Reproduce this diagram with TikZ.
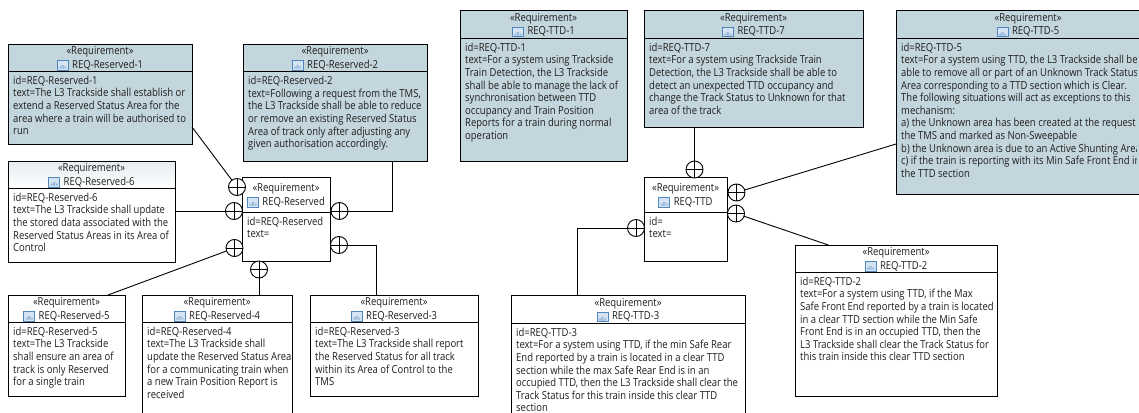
\documentclass[tikz,border=0pt]{standalone}
\usepackage{fontspec}
\setmainfont[FakeStretch=0.862]{Open Sans}
\usetikzlibrary{calc}
\definecolor{reqfill}{HTML}{C4D6DD}
\definecolor{reqink}{HTML}{1E1E1E}
\definecolor{iconfill}{HTML}{D5E4F3}
\definecolor{iconedge}{HTML}{4F86BE}
\definecolor{headtop}{HTML}{E4ECF0}
\newcommand{\reqicon}{\raisebox{-1.5pt}{\fboxsep=0pt\fboxrule=.9pt\fcolorbox{iconedge}{iconfill}{\makebox[10pt]{\rule{0pt}{8.5pt}\fontsize{5.5}{5.5}\selectfont\color{iconedge}«R»}}}\hspace{3.5pt}}
\def\reqtop{white}
% #1 name #2 x1 #3 y1 #4 x2 #5 ydiv #6 y2 #7 title #8 fill #9 body ; \reqclip = clip x
\newcommand{\reqbox}[9]{%
  \node[reqframe,fill=#8,minimum width={#4pt-#2pt},minimum height={#6pt-#3pt},anchor=north west] (#1) at (#2,#3) {};
  \ifx\reqtop\relax\else\fill[top color=\reqtop,bottom color=#8] (#2,#3) rectangle (#4,#5);
  \draw[reqrule] (#1.north west) rectangle (#1.south east);\fi
  \draw[reqrule] (#2,#5) -- (#4,#5);
  \node[reqtitle] (#1t) at ({(#2+#4)/2},{(#3+#5)/2+1}) {«Requirement»\\\reqicon #7};
  \begin{scope}
    \clip (#2,#5) rectangle (\reqclip,#6);
    \node[reqbody] (#1b) at (#2+5,#5+4.7) {#9};
  \end{scope}
}
\tikzset{
  reqframe/.style={draw=black,line width=.9pt,inner sep=0pt,outer sep=0pt},
  reqrule/.style={draw=black,line width=.9pt},
  reqtitle/.style={align=center,inner sep=0pt,font=\fontsize{11}{13.6}\selectfont,text=reqink},
  reqbody/.style={anchor=north west,align=left,inner sep=0pt,font=\fontsize{11}{12.6}\selectfont,text=reqink},
  joint/.style={circle,draw=black,line width=.9pt,minimum size=17pt,inner sep=0pt,outer sep=0pt,fill=white,
    path picture={\draw[black,line width=.9pt] (path picture bounding box.north)--(path picture bounding box.south) (path picture bounding box.west)--(path picture bounding box.east);}},
  link/.style={draw=black,line width=.9pt},
}
\begin{document}
\begin{tikzpicture}[x=1pt,y=-1pt]
\clip (0,0) rectangle (1139,412);
\fill[white] (0,0) rectangle (1139,412);
% Reserved group
\let\reqtop\relax
\def\reqclip{185}
\reqbox{rA}{8}{44}{192}{71}{144}{REQ-Reserved-1}{reqfill}{id=REQ-Reserved-1\\text=The L3 Trackside shall establish or\\extend a Reserved Status Area for the\\area where a train will be authorised to\\run}
\def\reqclip{424}
\reqbox{rB}{243}{44}{427}{71.5}{161}{REQ-Reserved-2}{reqfill}{id=REQ-Reserved-2\\text=Following a request from the TMS,\\the L3 Trackside shall be able to reduce\\or remove an existing Reserved Status\\Area of track only after adjusting any\\given authorisation accordingly.}
\def\reqclip{168}
\def\reqtop{headtop}
\reqbox{rF}{8}{161}{175}{188}{262}{REQ-Reserved-6}{white}{id=REQ-Reserved-6\\text=The L3 Trackside shall update\\the stored data associated with the\\Reserved Status Areas in its Area of\\Control}
\let\reqtop\relax
\def\reqclip{329}
\reqbox{rC}{242}{177}{330}{212}{261}{REQ-Reserved}{white}{id=REQ-Reserved\\text=}
\def\reqclip{124}
\reqbox{rE}{8}{295}{125}{322}{396}{REQ-Reserved-5}{white}{id=REQ-Reserved-5\\text=The L3 Trackside\\shall ensure an area of\\track is only Reserved\\for a single train}
\def\reqclip{291}
\reqbox{rD}{142}{295}{292}{322}{430}{REQ-Reserved-4}{white}{id=REQ-Reserved-4\\text=The L3 Trackside shall\\update the Reserved Status Area\\for a communicating train when\\a new Train Position Report is\\received}
\def\reqclip{477}
\reqbox{rG}{310}{295}{478}{322}{396}{REQ-Reserved-3}{white}{id=REQ-Reserved-3\\text=The L3 Trackside shall report\\the Reserved Status for all track\\within its Area of Control to the\\TMS}
% TTD group
\def\reqclip{626}
\reqbox{tA}{460}{10}{627}{38}{161}{REQ-TTD-1}{reqfill}{id=REQ-TTD-1\\text=For a system using Trackside\\Train Detection, the L3 Trackside\\shall be able to manage the lack of\\synchronisation between TTD\\occupancy and Train Position\\Reports for a train during normal\\operation}
\def\reqclip{862}
\reqbox{tG}{644}{10}{863}{38}{127}{REQ-TTD-7}{reqfill}{id=REQ-TTD-7\\text=For a system using Trackside Train\\Detection, the L3 Trackside shall be able to\\detect an unexpected TTD occupancy and\\change the Track Status to Unknown for that\\area of the track}
\def\reqclip{1136}
\reqbox{tE}{896}{10}{1160}{38}{194}{REQ-TTD-5}{reqfill}{id=REQ-TTD-5\\text=For a system using TTD, the L3 Trackside shall be\\able to remove all or part of an Unknown Track Status\\Area corresponding to a TTD section which is Clear.\\The following situations will act as exceptions to this\\mechanism:\\a) the Unknown area has been created at the request of\\the TMS and marked as Non-Sweepable\\b) the Unknown area is due to an Active Shunting Area\\c) if the train is reporting with its Min Safe Front End in\\the TTD section}
\def\reqclip{726}
\reqbox{tC}{644}{177}{727}{212}{261}{REQ-TTD}{white}{id=\\text=}
\def\reqclip{994}
\reqbox{tB}{795}{245}{997}{272}{396}{REQ-TTD-2}{white}{id=REQ-TTD-2\\text=For a system using TTD, if the Max\\Safe Front End reported by a train is located\\in a clear TTD section while the Min Safe\\Front End is in an occupied TTD, then the\\L3 Trackside shall clear the Track Status for\\this train inside this clear TTD section}
\def\reqclip{744}
\reqbox{tD}{511}{295}{745}{323}{430}{REQ-TTD-3}{white}{id=REQ-TTD-3\\text=For a system using TTD, if the min Safe Rear\\End reported by a train is located in a clear TTD\\section while the max Safe Rear End is in an\\occupied TTD, then the L3 Trackside shall clear the\\Track Status for this train inside this clear TTD\\section}
% joints
\node[joint] (j1) at (237,187) {};
\node[joint] (j2) at (234,211) {};
\node[joint] (j3) at (234.5,248) {};
\node[joint] (j4) at (339.5,211) {};
\node[joint] (j5) at (339,245) {};
\node[joint] (j6) at (259,269.5) {};
\node[joint] (k1) at (694.5,169.5) {};
\node[joint] (k2) at (736.5,192.5) {};
\node[joint] (k3) at (736,213.5) {};
\node[joint] (k4) at (636,228) {};
% connectors
\draw[link] (j1) -- ($(rA.south east)+(0,-17)$);
\draw[link] (j2) -- (j2 -| rF.east);
\draw[link] (j3) -- ($(rE.north west)!.855!(rE.north east)$);
\draw[link] (j4) -| ($(rB.south west)!.81!(rB.south east)$);
\draw[link] (j5.east) -| ($(rG.north west)!.393!(rG.north east)$);
\draw[link] (j6) -- (j6 |- rD.north);
\draw[link] (k1) -- (k1 |- tG.south);
\draw[link] (k2) -- ($(tE.north west)+(0,134)$);
\draw[link] (k3) -- ($(tB.north west)!.165!(tB.north east)$);
\draw[link] (k4) -| ($(tD.north west)!.285!(tD.north east)$);
\end{tikzpicture}
\end{document}
